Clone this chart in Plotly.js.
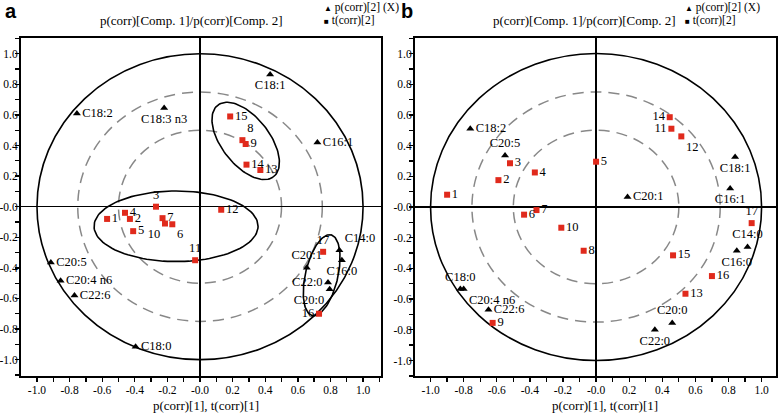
<!DOCTYPE html>
<html><head><meta charset="utf-8">
<script src="https://cdn.plot.ly/plotly-3.0.1.min.js"></script>
<style>body{margin:0;background:#fff;}</style>
</head><body><div id="chart" style="width:778px;height:413px;"></div>
<script>
// ---------- Data: panel a ----------
const aSampleLabels = ['1','2','3','4','5','6','7','8','9','10','11','12','13','14','15','16','17'];
const aSampleX = [-0.57,-0.43,-0.27,-0.46,-0.41,-0.17,-0.23,0.26,0.28,-0.215,-0.03,0.13,0.37,0.285,0.185,0.73,0.755];
const aSampleY = [-0.08,-0.08,0.0,-0.04,-0.16,-0.115,-0.075,0.435,0.41,-0.11,-0.35,-0.02,0.24,0.275,0.59,-0.70,-0.295];
const aVarLabels = ['C18:1','C18:2','C18:3 n3','C16:1','C20:5','C20:4 n6','C22:6','C18:0','C14:0','C16:0','C20:1','C22:0','C20:0'];
const aVarX = [0.43,-0.755,-0.22,0.72,-0.915,-0.855,-0.77,-0.395,0.855,0.87,0.655,0.785,0.795];
const aVarY = [0.865,0.61,0.645,0.42,-0.365,-0.485,-0.58,-0.915,-0.285,-0.35,-0.40,-0.495,-0.54];
// ellipses (center x, center y, semi-axis a, semi-axis b, angle deg)
const aEllipseCx = [-0.147, 0.28, 0.746];
const aEllipseCy = [-0.128, 0.43, -0.448];
const aEllipseA  = [0.503, 0.29, 0.27];
const aEllipseB  = [0.231, 0.15, 0.10];
const aEllipseAng = [0, -55, 78];

// ---------- Data: panel b ----------
const bSampleLabels = ['1','2','3','4','5','6','7','8','9','10','11','12','13','14','15','16','17'];
const bSampleX = [-0.90,-0.59,-0.52,-0.37,0.0,-0.435,-0.36,-0.075,-0.625,-0.21,0.455,0.515,0.54,0.445,0.465,0.70,0.94];
const bSampleY = [0.08,0.175,0.285,0.225,0.295,-0.05,-0.02,-0.285,-0.755,-0.135,0.51,0.46,-0.565,0.585,-0.315,-0.45,-0.105];
const bVarLabels = ['C18:2','C20:5','C18:1','C16:1','C20:1','C14:0','C16:0','C18:0','C20:4 n6','C22:6','C20:0','C22:0'];
const bVarX = [-0.76,-0.55,0.84,0.81,0.19,0.915,0.85,-0.82,-0.80,-0.65,0.46,0.355];
const bVarY = [0.51,0.335,0.325,0.12,0.065,-0.26,-0.285,-0.535,-0.535,-0.67,-0.755,-0.80];

// ---------- Shared ----------
const tickVals = [-1.0,-0.8,-0.6,-0.4,-0.2,0,0.2,0.4,0.6,0.8,1.0];
const tickText = ['-1.0','-0.8','-0.6','-0.4','-0.2','-0.0','0.2','0.4','0.6','0.8','1.0'];
const circleRadii = [1.0, 0.75, 0.5];
const titleText = 'p(corr)[Comp. 1]/p(corr)[Comp. 2]';
const xTitleText = 'p(corr)[1], t(corr)[1]';
const legendVarText = 'p(corr)[2] (X)';
const legendSampleText = 't(corr)[2]';

// label placements (style)
const aSamplePos = ['middle right','middle right','top center','middle right','middle right','bottom right','middle right','top right','middle right','bottom left','top center','middle right','middle right','middle right','middle right','middle left','top center'];
const aVarPos = ['bottom center','middle right','bottom center','middle right','middle right','middle right','middle right','middle right','top right','bottom center','top center','middle left','bottom left'];
const bSamplePos = ['middle right','middle right','middle right','middle right','middle right','middle right','middle right','middle right','middle right','middle right','middle left','bottom right','middle right','middle left','middle right','middle right','top center'];
const bVarPos = ['middle right','top center','bottom center','bottom center','middle right','top center','bottom center','top center','bottom right','middle right','top center','bottom center'];

const SERIF = 'Liberation Serif';
const SANS = 'Liberation Sans';
const RED = '#e02a1c';
const W = 778, H = 413;
const PX = p => p / W, PY = p => 1 - p / H;

function ellipseTrace(cx, cy, a, b, ang, xa, ya) {
  const t = ang * Math.PI / 180, xs = [], ys = [];
  for (let i = 0; i <= 120; i++) {
    const s = 2 * Math.PI * i / 120;
    const u = a * Math.cos(s), v = b * Math.sin(s);
    xs.push(cx + u * Math.cos(t) - v * Math.sin(t));
    ys.push(cy + u * Math.sin(t) + v * Math.cos(t));
  }
  return {x: xs, y: ys, xaxis: xa, yaxis: ya, mode: 'lines', type: 'scatter',
          line: {color: '#000', width: 1.6}, hoverinfo: 'skip', showlegend: false};
}

const traces = [];
for (let i = 0; i < aEllipseCx.length; i++)
  traces.push(ellipseTrace(aEllipseCx[i], aEllipseCy[i], aEllipseA[i], aEllipseB[i], aEllipseAng[i], 'x', 'y'));

function pts(xs, ys, labels, pos, xa, ya, sym, color, size) {
  return {x: xs, y: ys, text: labels, textposition: pos, xaxis: xa, yaxis: ya,
    mode: 'markers+text', type: 'scatter', showlegend: false, cliponaxis: true,
    marker: {symbol: sym, color: color, size: size, line: {width: 0}},
    textfont: {family: SERIF, size: 12.5, color: '#000'}};
}
traces.push(pts(aVarX, aVarY, aVarLabels, aVarPos, 'x', 'y', 'triangle-up', '#000', 7));
traces.push(pts(aSampleX, aSampleY, aSampleLabels, aSamplePos, 'x', 'y', 'square', RED, 6));
traces.push(pts(bVarX, bVarY, bVarLabels, bVarPos, 'x2', 'y2', 'triangle-up', '#000', 7));
traces.push(pts(bSampleX, bSampleY, bSampleLabels, bSamplePos, 'x2', 'y2', 'square', RED, 6));

const shapes = [];
[['x','y'],['x2','y2']].forEach(([xr, yr]) => {
  circleRadii.forEach((r, k) => {
    shapes.push({type: 'circle', xref: xr, yref: yr, x0: -r, x1: r, y0: -r, y1: r, layer: 'below',
      line: k === 0 ? {color: '#000', width: 1.6} : {color: '#888', width: 1.5, dash: '11px,7px'}});
  });
});

function axis(domain, range, anchor, isY) {
  return {domain: domain, range: range, anchor: anchor, showgrid: false,
    zeroline: true, zerolinecolor: '#000', zerolinewidth: 1.6,
    showline: true, mirror: true, linecolor: '#000', linewidth: 2,
    ticks: 'outside', ticklen: 4, tickwidth: 1.3, tickcolor: '#000',
    ticklabelstandoff: isY ? -5 : -2,
    tickmode: 'array', tickvals: tickVals, ticktext: tickText,
    minor: {dtick: 0.1, tick0: 0, ticks: 'outside', ticklen: 4, tickwidth: 1.3, tickcolor: '#000', showgrid: false},
    tickfont: {family: SERIF, size: 11.5, color: '#000'}, fixedrange: true};
}

const yDom = [1 - 376 / H, 1 - 38 / H];
function ann(px, py, text, size, anchor, family) {
  return {xref: 'paper', yref: 'paper', x: PX(px), y: PY(py), xanchor: anchor || 'center', yanchor: 'middle',
    showarrow: false, text: text, font: {family: family || SERIF, size: size, color: '#000'}};
}
const layout = {
  width: W, height: H, margin: {l: 0, r: 0, t: 0, b: 0},
  paper_bgcolor: '#fff', plot_bgcolor: '#fff', showlegend: false,
  font: {family: SERIF},
  xaxis: axis([21 / W, 381 / W], [-1.098, 1.110], 'y', false),
  yaxis: axis(yDom, [-1.107, 1.103], 'x', true),
  xaxis2: axis([415 / W, 776 / W], [-1.094, 1.087], 'y2', false),
  yaxis2: axis(yDom, [-1.101, 1.101], 'x2', true),
  shapes: shapes,
  annotations: [
    ann(3, 11, '<b>a</b>', 20, 'left', SANS),
    ann(399, 11, '<b>b</b>', 20, 'left', SANS),
    ann(191, 21, titleText, 13),
    ann(584, 21, titleText, 13),
    ann(206, 405, xTitleText, 13),
    ann(605, 405, xTitleText, 13),
    ann(322, 8, '<span style="font-size:8px">▲</span> ' + legendVarText, 11.5, 'left'),
    ann(322, 21, '<span style="font-size:8px">■</span> ' + legendSampleText, 11.5, 'left'),
    ann(683, 8, '<span style="font-size:8px">▲</span> ' + legendVarText, 11.5, 'left'),
    ann(683, 21, '<span style="font-size:8px">■</span> ' + legendSampleText, 11.5, 'left')
  ]
};

Plotly.newPlot('chart', traces, layout, {displayModeBar: false, staticPlot: true});
</script>
</body></html>
